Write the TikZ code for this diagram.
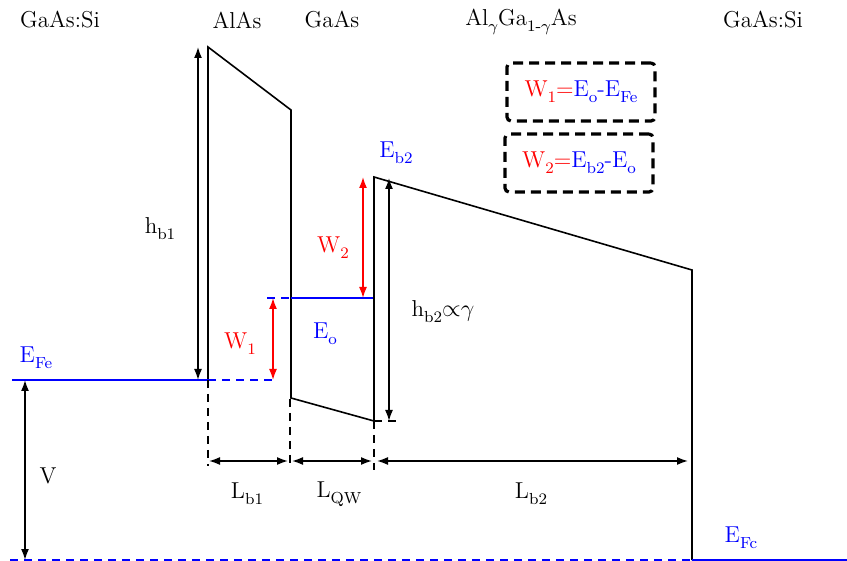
\documentclass[tikz,border=0pt]{standalone}
\usepackage{amsmath, amssymb}
\usetikzlibrary{arrows.meta}
\newcommand{\lowsub}[1]{\raisebox{-0.6ex}{\footnotesize #1}}
\tikzset{
  band/.style={line width=0.8pt, black},
  fermi/.style={line width=0.8pt, blue},
  fermidash/.style={line width=0.8pt, blue, dash pattern=on 4pt off 3pt},
  guide/.style={line width=0.8pt, black, dash pattern=on 4pt off 3pt},
  dimarrow/.style={{Latex[length=5.5pt,width=4pt]}-{Latex[length=5.5pt,width=4pt]}, line width=0.8pt},
  workarrow/.style={dimarrow, red},
  eqbox/.style={draw, line width=1.6pt, dash pattern=on 5pt off 3pt, rounded corners=2pt, minimum width=74pt, minimum height=29pt, align=center},
  txt/.style={font=\fontsize{11.5}{14}\selectfont, inner sep=1pt}
}
\begin{document}
\begin{tikzpicture}[x=0.5pt, y=-0.5pt]
  \useasboundingbox (0,0) rectangle (847,561);
  % band edge corners
  \coordinate (b1bl) at (208,380);
  \coordinate (b1tl) at (208,47);
  \coordinate (b1tr) at (291,110);
  \coordinate (b1br) at (291,398);
  \coordinate (qwbr) at (374,421);
  \coordinate (b2tl) at (374,177);
  \coordinate (b2tr) at (692,270);
  \coordinate (b2br) at (692,560);
  \draw[band] (b1bl) -- (b1tl) -- (b1tr) -- (b1br) -- (qwbr) -- (b2tl) -- (b2tr) -- (b2br);
  % levels
  \coordinate (fel) at (12,380);
  \coordinate (fer) at (275,380);
  \draw[fermi] (fel) -- (b1bl);
  \draw[fermidash] (b1bl) -- (fer);
  \coordinate (eol) at (267,298);
  \coordinate (eom) at (291,298);
  \coordinate (eor) at (373,298);
  \draw[fermidash] (eol) -- (eom);
  \draw[fermi] (eom) -- (eor);
  \coordinate (fcl) at (10,560);
  \coordinate (fcr) at (847,560);
  \draw[fermidash] (fcl) -- (b2br);
  \draw[fermi] (b2br) -- (fcr);
  % guide lines
  \coordinate (g1) at (208,466);
  \coordinate (g2t) at (290,399);
  \coordinate (g2) at (290,466);
  \coordinate (g3) at (374,470);
  \coordinate (hb2e) at (400,421);
  \draw[guide] (b1bl) -- (g1);
  \draw[guide] (g2t) -- (g2);
  \draw[guide] (qwbr) -- (g3);
  \draw[guide] (qwbr) -- (hb2e);
  % heights
  \coordinate (hb1t) at (198,47);
  \coordinate (hb1b) at (198,380);
  \draw[dimarrow] (hb1t) -- (hb1b);
  \coordinate (w1t) at (273,298);
  \coordinate (w1b) at (273,380);
  \draw[workarrow] (w1t) -- (w1b);
  \coordinate (w2t) at (363,177);
  \coordinate (w2b) at (363,298);
  \draw[workarrow] (w2t) -- (w2b);
  \coordinate (hb2t) at (389,178);
  \coordinate (hb2b) at (389,421);
  \draw[dimarrow] (hb2t) -- (hb2b);
  \coordinate (vt) at (25,380);
  \coordinate (vb) at (25,560);
  \draw[dimarrow] (vt) -- (vb);
  % widths
  \coordinate (lb1l) at (209,461);
  \coordinate (lb1r) at (288,461);
  \coordinate (lqwl) at (292,461);
  \coordinate (lqwr) at (372,461);
  \coordinate (lb2l) at (377,461);
  \coordinate (lb2r) at (688,461);
  \draw[dimarrow] (lb1l) -- (lb1r);
  \draw[dimarrow] (lqwl) -- (lqwr);
  \draw[dimarrow] (lb2l) -- (lb2r);
  % labels
  \node[txt] (gasil) at (60,20) {GaAs:Si};
  \node[txt] (alas) at (237,20) {AlAs};
  \node[txt] (gaas) at (332,20) {GaAs};
  \node[txt] (algaas) at (521,22) {Al\lowsub{$\gamma$}Ga\lowsub{1-$\gamma$}As};
  \node[txt] (gasir) at (763,20) {GaAs:Si};
  \node[txt] (hb1) at (160,229) {h\lowsub{b1}};
  \node[txt, blue] (efe) at (36,358) {E\lowsub{Fe}};
  \node[txt, red] (w1) at (240,344) {W\lowsub{1}};
  \node[txt, blue] (eo) at (325,334) {E\lowsub{o}};
  \node[txt, red] (w2) at (333,248) {W\lowsub{2}};
  \node[txt, blue] (eb2) at (396,153) {E\lowsub{b2}};
  \node[txt] (hb2) at (443,312) {h\lowsub{b2}${\propto}\gamma$};
  \node[txt] (v) at (48,476) {V};
  \node[txt] (lb1) at (247,494) {L\lowsub{b1}};
  \node[txt] (lqw) at (339,494) {L\lowsub{QW}};
  \node[txt] (lb2) at (531,494) {L\lowsub{b2}};
  \node[txt, blue] (efc) at (741,538) {E\lowsub{Fc}};
  % definitions
  \node[eqbox, txt, inner sep=0pt] (defw1) at (581,92) {\textcolor{red}{W\lowsub{1}=}\textcolor{blue}{E\lowsub{o}-E\lowsub{Fe}}};
  \node[eqbox, txt, inner sep=0pt] (defw2) at (579,163) {\textcolor{red}{W\lowsub{2}=}\textcolor{blue}{E\lowsub{b2}-E\lowsub{o}}};
\end{tikzpicture}
\end{document}
